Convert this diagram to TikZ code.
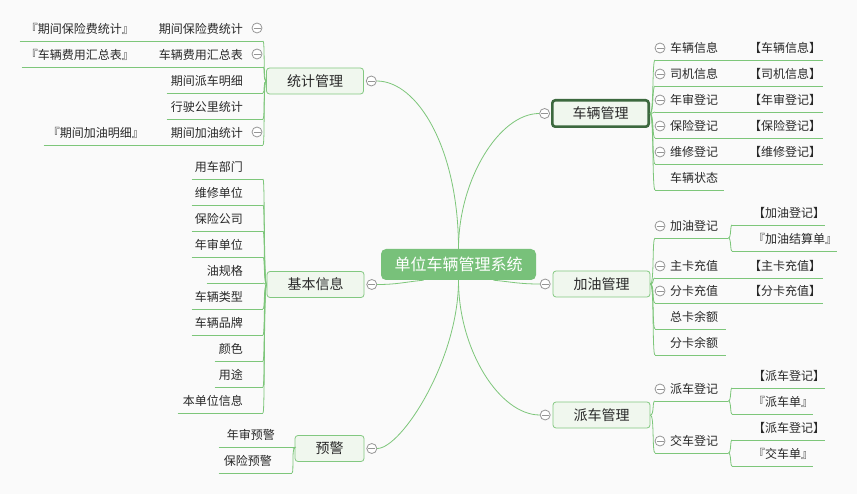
\documentclass[tikz,border=0pt]{standalone}
\usepackage{fontspec}
\setmainfont{Noto Sans CJK SC}
\usetikzlibrary{positioning}

\definecolor{linkgreen}{RGB}{125,198,122}
\definecolor{rootfill}{RGB}{120,193,122}
\definecolor{boxfill}{RGB}{240,247,238}
\definecolor{boxline}{RGB}{130,200,128}
\definecolor{selline}{RGB}{60,105,62}
\definecolor{foldline}{RGB}{150,150,150}
\definecolor{txt}{RGB}{40,40,40}
\definecolor{bgc}{RGB}{250,250,250}

\begin{document}
\begin{tikzpicture}[
        x=1pt, y=-1pt,
        rootbox/.style={rounded corners=5pt, fill=rootfill, text=white,
            minimum width=155pt, minimum height=31pt, inner sep=0pt,
            font=\fontsize{16}{18}\selectfont},
        topic/.style={rounded corners=3pt, draw=boxline, fill=boxfill,
            line width=0.8pt, minimum width=97pt, minimum height=26pt,
            inner sep=0pt, text=txt, font=\fontsize{14}{16}\selectfont},
        selbox/.style={draw=selline, line width=2.6pt},
        fold/.style={circle, draw=foldline, fill=white, line width=0.8pt,
            minimum size=10pt, inner sep=0pt,
            path picture={\draw[foldline, line width=0.8pt]
                ([xshift=-3.5pt]path picture bounding box.center) --
                ([xshift=3.5pt]path picture bounding box.center);}},
        branch/.style={draw=linkgreen, line width=0.8pt},
        ul/.style={append after command={(\tikzlastnode.south west) edge[branch] (\tikzlastnode.south east)}},
        leaf/.style={inner xsep=0pt, inner ysep=4pt, text height=9pt, text depth=3pt,
            text=txt, font=\fontsize{12}{14}\selectfont, ul},
        rleaf/.style={leaf, anchor=south west, text width=#1, align=left,
            execute at begin node={\hspace*{15pt}}},
        rsub/.style={leaf, anchor=south west, text width=#1, align=left,
            execute at begin node={\hspace*{21pt}}},
        lleaf/.style={leaf, anchor=south east, text width=#1, align=right,
            execute at end node={\hspace*{20pt}}},
        lsub/.style={leaf, anchor=south east, text width=#1, align=right,
            execute at end node={\hspace*{14pt}}},
        ]

        \fill[bgc] (0,0) rectangle (857,494);
        \useasboundingbox (0,0) rectangle (857,494);

        % main topics
        \node[rootbox] (root) at (458.5,264.5) {单位车辆管理系统};
        \node[topic] (stat) at (315,81) {统计管理};
        \node[topic] (basic) at (315.5,284.5) {基本信息};
        \node[topic, minimum width=69pt] (warn) at (329.5,448.5) {预警};
        \node[topic, selbox, minimum width=96.4pt, minimum height=26.4pt] (car) at (600.5,113.5) {车辆管理};
        \node[topic] (fuel) at (601.5,284) {加油管理};
        \node[topic] (disp) at (601.5,415) {派车管理};

        \node[fold, right=2pt of stat] (fstat) {};
        \node[fold, right=2pt of basic] (fbasic) {};
        \node[fold, right=2pt of warn] (fwarn) {};
        \node[fold, left=1pt of car] (fcar) {};
        \node[fold, left=2pt of fuel] (ffuel) {};
        \node[fold, left=2pt of disp] (fdisp) {};

        % 车辆管理
        \node[rleaf=73pt] (c1) at (655,60) {车辆信息};
        \node[rleaf=73pt] (c2) at (655,86) {司机信息};
        \node[rleaf=73pt] (c3) at (655,112) {年审登记};
        \node[rleaf=73pt] (c4) at (655,138) {保险登记};
        \node[rleaf=73pt] (c5) at (655,164) {维修登记};
        \node[rleaf=69pt] (c6) at (655,190) {车辆状态};
        \node[rsub=95pt] (c1a) at (728,60) {【车辆信息】};
        \node[rsub=95pt] (c2a) at (728,86) {【司机信息】};
        \node[rsub=95pt] (c3a) at (728,112) {【年审登记】};
        \node[rsub=95pt] (c4a) at (728,138) {【保险登记】};
        \node[rsub=95pt] (c5a) at (728,164) {【维修登记】};

        % 加油管理
        \node[rleaf=73pt] (f1) at (655,238) {加油登记};
        \node[rsub=93pt] (f1a) at (732,225) {【加油登记】};
        \node[rsub=105pt] (f1b) at (732,251) {『加油结算单』};
        \node[rleaf=73pt] (f2) at (655,278) {主卡充值};
        \node[rsub=95pt] (f2a) at (728,278) {【主卡充值】};
        \node[rleaf=73pt] (f3) at (655,303) {分卡充值};
        \node[rsub=95pt] (f3a) at (728,303) {【分卡充值】};
        \node[rleaf=71pt] (f4) at (655,329) {总卡余额};
        \node[rleaf=71pt] (f5) at (655,355) {分卡余额};

        % 派车管理
        \node[rleaf=73pt] (d1) at (655,401) {派车登记};
        \node[rsub=93pt] (d1a) at (732,388) {【派车登记】};
        \node[rsub=81pt] (d1b) at (732,414) {『派车单』};
        \node[rleaf=73pt] (d2) at (655,453) {交车登记};
        \node[rsub=93pt] (d2a) at (732,440) {【派车登记】};
        \node[rsub=81pt] (d2b) at (732,466) {『交车单』};

        % 统计管理
        \node[lleaf=115pt] (s1) at (263,41) {期间保险费统计};
        \node[lsub=128pt] (s1a) at (148,41) {『期间保险费统计』};
        \node[lleaf=115pt] (s2) at (263,67) {车辆费用汇总表};
        \node[lsub=126pt] (s2a) at (148,67) {『车辆费用汇总表』};
        \node[lleaf=96pt] (s3) at (263,93) {期间派车明细};
        \node[lleaf=96pt] (s4) at (263,119) {行驶公里统计};
        \node[lleaf=105pt] (s5) at (263,145) {期间加油统计};
        \node[lsub=114pt] (s5a) at (158,145) {『期间加油明细』};

        % 基本信息
        \node[lleaf=71pt] (b1) at (263,179) {用车部门};
        \node[lleaf=71pt] (b2) at (263,205) {维修单位};
        \node[lleaf=71pt] (b3) at (263,231) {保险公司};
        \node[lleaf=71pt] (b4) at (263,257) {年审单位};
        \node[lleaf=56pt] (b5) at (263,283) {油规格};
        \node[lleaf=71pt] (b6) at (263,309) {车辆类型};
        \node[lleaf=71pt] (b7) at (263,335) {车辆品牌};
        \node[lleaf=48pt] (b8) at (263,361) {颜色};
        \node[lleaf=48pt] (b9) at (263,387) {用途};
        \node[lleaf=85pt] (b10) at (263,413) {本单位信息};

        % 预警
        \node[lleaf=76pt] (w1) at (295,447) {年审预警};
        \node[lleaf=73pt] (w2) at (292,473) {保险预警};

        \foreach \n in {c1,c2,c3,c4,c5,f1,f2,f3,d1,d2}
            \node[fold] (fold-\n) at ([xshift=5pt,yshift=12pt]\n.south west) {};
        \foreach \n in {s1,s2,s5}
            \node[fold] (fold-\n) at ([xshift=-6pt,yshift=13pt]\n.south east) {};

        % connectors
        \draw[branch] (root.north) .. controls +(0,-100) and +(41,0) .. (fstat.east);
        \draw[branch] (root.north) .. controls +(0,-69) and +(-40,0) .. (fcar.west);
        \draw[branch] ([xshift=-35pt]root.south) .. controls +(-20,2) and +(20,0) .. (fbasic.east);
        \draw[branch] ([xshift=35pt]root.south) .. controls +(20,2) and +(-20,0) .. (ffuel.west);
        \draw[branch] (root.south) .. controls +(0,80) and +(24,0) .. (fwarn.east);
        \draw[branch] (root.south) .. controls +(0,70) and +(-40,0) .. (fdisp.west);

        \foreach \n in {c1,c2,c3,c4,c5,c6}
            \draw[branch] (car.east) .. controls +(4,0) and +(-3,0) .. (\n.south west);
        \foreach \n in {f1,f2,f3,f4,f5}
            \draw[branch] (fuel.east) .. controls +(4,0) and +(-3,0) .. (\n.south west);
        \foreach \n in {d1,d2}
            \draw[branch] (disp.east) .. controls +(4,0) and +(-3,0) .. (\n.south west);
        \foreach \n/\m in {c1/c1a,c2/c2a,c3/c3a,c4/c4a,c5/c5a,f2/f2a,f3/f3a}
            \draw[branch] (\n.south east) -- (\m.south west);
        \foreach \n/\m in {f1/f1a,f1/f1b,d1/d1a,d1/d1b,d2/d2a,d2/d2b}
            \draw[branch] (\n.south east) .. controls +(3,0) and +(-2,0) .. (\m.south west);

        \foreach \n in {s1,s2,s3,s4,s5}
            \draw[branch] (stat.west) .. controls +(-3,0) and +(2,0) .. (\n.south east);
        \foreach \n in {b1,b2,b3,b4,b5,b6,b7,b8,b9,b10}
            \draw[branch] (basic.west) .. controls +(-3,0) and +(2,0) .. (\n.south east);
        \foreach \n in {w1,w2}
            \draw[branch] (warn.west) .. controls +(-3,0) and +(2,0) .. (\n.south east);
        \foreach \n/\m in {s1/s1a,s2/s2a,s5/s5a}
            \draw[branch] (\n.south west) -- (\m.south east);

\end{tikzpicture}
\end{document}
